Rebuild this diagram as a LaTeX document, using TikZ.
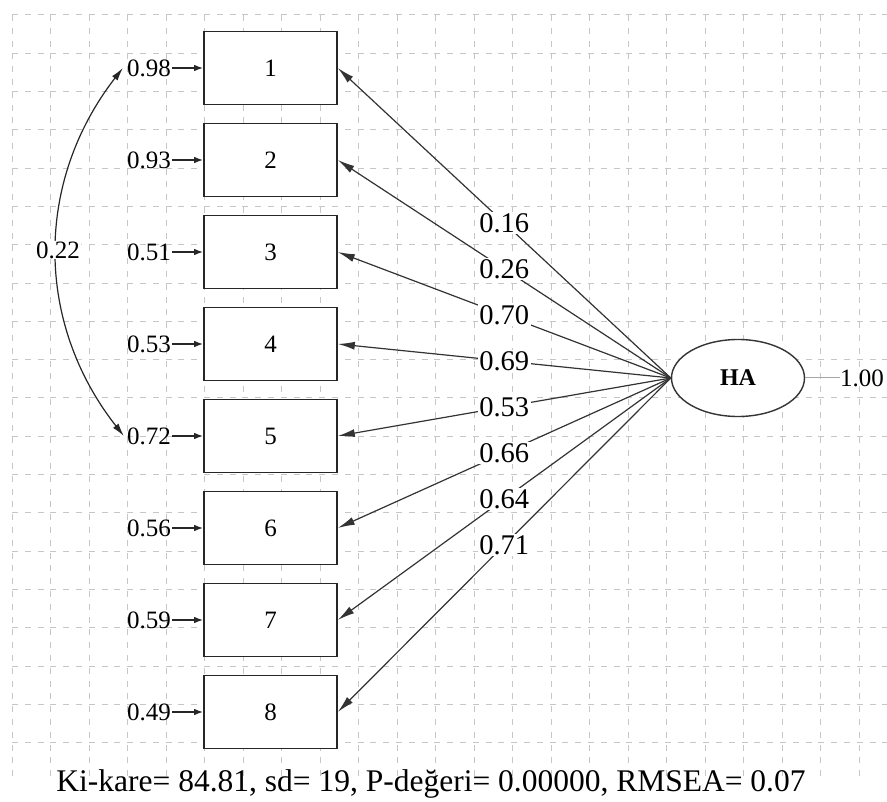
\documentclass[tikz,border=0pt]{standalone}
\usepackage{fontspec}
\setmainfont{Liberation Serif}
\usetikzlibrary{arrows.meta,shapes.geometric}
\begin{document}
\begin{tikzpicture}[x=1pt,y=-1pt,
  gridline/.style={draw=gray!45,line width=1pt,dash pattern=on 6pt off 6.8pt},
  itembox/.style={draw=black!85,line width=1.6pt,fill=white,minimum width=133pt,minimum height=73pt,inner sep=0pt,font=\fontsize{25}{28}\selectfont},
  errlabel/.style={anchor=east,inner sep=1pt,font=\fontsize{25}{28}\selectfont},
  loadlabel/.style={fill=white,inner sep=1.5pt,font=\fontsize{28.5}{30}\selectfont},
  loadarrow/.style={draw=black!80,line width=1.2pt,-{Latex[length=17pt,width=8pt]}},
  errarrow/.style={draw=black!85,line width=1.4pt,-{Latex[length=9pt,width=6.5pt]}},
  latent/.style={ellipse,draw=black!80,line width=1.4pt,fill=white,minimum width=133pt,minimum height=77pt,inner sep=0pt,font=\fontsize{24}{26}\selectfont\bfseries}
]
\useasboundingbox[fill=white] (0,0) rectangle (887,802);
% grid
\foreach \i in {0,...,22} {
  \draw[gridline] ({12+38.5*\i},15) -- ({12+38.5*\i},782);
}
\foreach \j in {0,...,19} {
  \draw[gridline] (12,{15+38.3*\j}) -- (887,{15+38.3*\j});
}
% latent
\node[latent] (ha) at (738,378) {HA};
\node[anchor=west,inner sep=0pt,font=\fontsize{25}{28}\selectfont] (one) at (840,378) {1.00};
\draw[draw=gray!70,line width=1pt] (ha.east) -- (one.west);
% boxes and errors
\foreach \n/\e/\l in {1/0.98/0.16,2/0.93/0.26,3/0.51/0.70,4/0.53/0.69,5/0.72/0.53,6/0.56/0.66,7/0.59/0.64,8/0.49/0.71} {
  \node[itembox] (b\n) at (270.5,{68+92*(\n-1)}) {\n};
  \node[errlabel] (e\n) at (172,{68+92*(\n-1)}) {\e};
  \draw[errarrow] (e\n.east) -- (b\n.west);
  \draw[loadarrow] (ha.west) -- (b\n.east) node[loadlabel,pos=0.5] {\l};
}
% correlation
\draw[draw=black!85,line width=1.2pt,{Latex[length=13pt,width=7pt]}-{Latex[length=13pt,width=7pt]}] ([xshift=-3pt]e1.west) to[bend right=38] ([xshift=-2pt]e5.west);
\node[fill=white,inner sep=1pt,font=\fontsize{25}{28}\selectfont] (cor) at (58,250) {0.22};
% footer
\node[font=\fontsize{31.5}{34}\selectfont,inner sep=0pt] (fit) at (431,784) {Ki-kare= 84.81, sd= 19, P-değeri= 0.00000, RMSEA= 0.07};
\end{tikzpicture}
\end{document}
